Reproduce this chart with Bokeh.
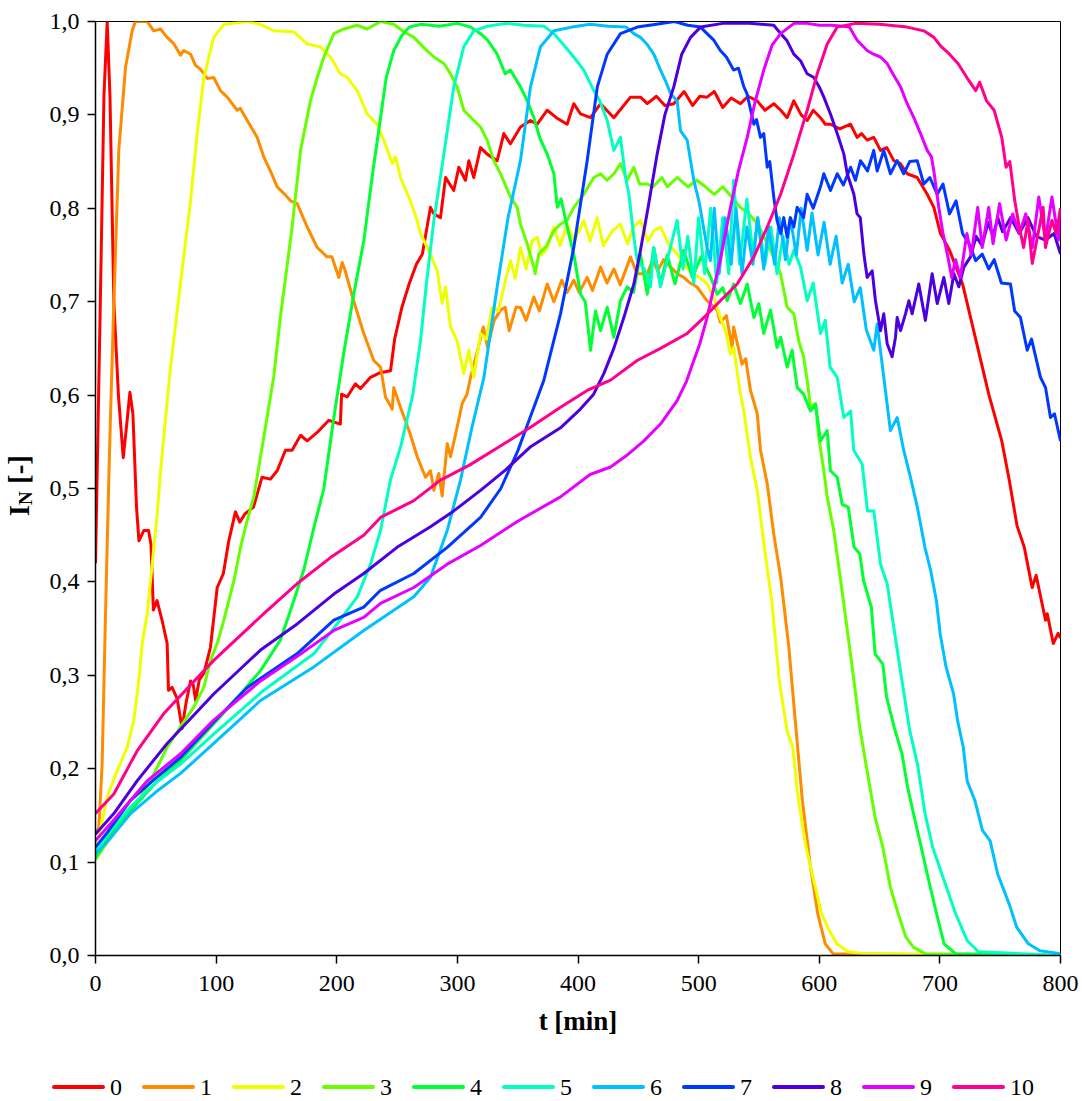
import math
from bokeh.plotting import figure
from bokeh.models import (FixedTicker, CustomJSTickFormatter, Range1d, Div)
from bokeh.layouts import row, column
from bokeh.embed import file_html
from bokeh.resources import INLINE

# ---------------- data (t [min], I_N [-]) ----------------
series_names = ["0", "1", "2", "3", "4", "5", "6", "7", "8", "9", "10"]
series_colors = ["#FF0000", "#FF8C00", "#EEFF00", "#66FF00", "#00FF33", "#00FFC0",
                 "#00C0FF", "#0038FF", "#4C00E0", "#E600FF", "#FF0090"]
x_ticks = [0, 100, 200, 300, 400, 500, 600, 700, 800]
y_ticks = [0.0, 0.1, 0.2, 0.3, 0.4, 0.5, 0.6, 0.7, 0.8, 0.9, 1.0]

s0 = [(0,0.42),(4,0.70),(7,0.92),(9.7,1.0),(12,0.92),(15.2,0.70),(19,0.60),(23,0.533),(26,0.57),(28.5,0.603),
      (31,0.58),(34,0.48),(36,0.444),(40,0.455),(44,0.455),(46,0.44),(48,0.37),(51,0.38),(55,0.36),(59.4,0.334),
      (60.5,0.284),(63.5,0.287),(67.7,0.275),(71.8,0.243),(75,0.27),(78.8,0.294),(81,0.29),(83,0.273),(86,0.295),
      (89.8,0.302),(95.3,0.33),(100.9,0.394),(106,0.409),(110.5,0.444),(116,0.475),(119.6,0.464),(124,0.473),
      (131,0.48),(138,0.512),(145,0.51),(150.6,0.519),(157.5,0.541),(163,0.541),(170,0.557),(175.5,0.551),
      (183.8,0.56),(193.4,0.573),(203,0.569),(204,0.601),(208.6,0.598),(215.5,0.612),(219.7,0.607),(228,0.619),
      (236,0.624),(244.6,0.626),(248,0.66),(254,0.694),(260,0.719),(266,0.74),(271,0.751),(277.7,0.801),
      (280.5,0.794),(286,0.79),(290.2,0.833),(297,0.819),(301.2,0.844),(306.7,0.83),(309.5,0.851),(313.6,0.833),
      (319.2,0.865),(324.7,0.858),(333,0.851),(338.5,0.88),(344,0.869),(352.3,0.887),(360.6,0.894),(366.2,0.89),
      (374.5,0.905),(382,0.897),(391,0.89),(396.5,0.912),(402.1,0.901),(410.4,0.897),(418.7,0.912),(429.7,0.897),
      (443.5,0.919),(451.8,0.919),(457.4,0.912),(465,0.92),(472,0.91),(479.4,0.912),(488,0.925),(495,0.91),
      (501,0.92),(507,0.919),(513,0.925),(520,0.908),(527,0.918),(534.7,0.912),(541,0.92),(548.5,0.915),
      (555,0.905),(562.3,0.912),(568,0.905),(573.4,0.897),(578.9,0.915),(585,0.9),(590,0.894),(595,0.905),
      (601,0.897),(605,0.89),(609.3,0.89),(617,0.885),(625.9,0.89),(631.4,0.876),(635,0.88),(639.7,0.873),
      (645.2,0.876),(650.8,0.862),(656,0.865),(661.8,0.851),(667,0.848),(672.9,0.837),(681.2,0.833),
      (689.5,0.815),(695,0.801),(700.5,0.773),(708,0.755),(718.8,0.719),(729.7,0.66),(740.5,0.601),
      (751.3,0.551),(757.5,0.509),(764,0.46),(770,0.437),(776.5,0.394),(779.8,0.407),(787.6,0.359),(789,0.366),
      (794,0.334),(798,0.345),(800,0.34)]

s1 = [(0,0.13),(2.8,0.137),(5.5,0.205),(8.3,0.366),(11,0.508),(12.4,0.576),(15,0.69),(17,0.77),(19.3,0.862),
      (24.9,0.951),(30.4,0.99),(33,1.0),(42.8,1.0),(48.3,0.99),(53.9,0.992),(59.4,0.983),(65,0.976),(70.5,0.964),
      (73.2,0.969),(78.8,0.965),(82.9,0.953),(87,0.949),(92.6,0.939),(98,0.94),(103.6,0.926),(109.2,0.919),
      (117.5,0.905),(120,0.907),(125.8,0.894),(134,0.876),(139.5,0.855),(145,0.84),(150.6,0.823),(156,0.816),
      (161.7,0.808),(167.2,0.805),(175.5,0.78),(183.8,0.758),(192,0.748),(196,0.748),(201.7,0.726),(204.5,0.742),
      (207,0.733),(214,0.701),(222.4,0.666),(230.7,0.637),(236.3,0.63),(240.4,0.598),(246,0.585),(247.3,0.608),
      (252.8,0.587),(261,0.558),(266.7,0.534),(273.6,0.512),(277.7,0.519),(280.5,0.498),(284.6,0.516),
      (287.4,0.492),(291.6,0.548),(294.3,0.534),(298.5,0.558),(301,0.573),(304,0.591),(308,0.601),(310.9,0.619),
      (316,0.644),(321.5,0.673),(325,0.651),(330.5,0.68),(335.8,0.691),(339.6,0.694),(343,0.669),(348.6,0.694),
      (352.3,0.694),(357,0.68),(363.4,0.705),(368,0.69),(374.5,0.719),(380,0.70),(386.5,0.723),(391,0.71),
      (396.5,0.723),(401,0.71),(407.6,0.726),(412,0.712),(418.7,0.737),(424,0.72),(429.8,0.735),(435,0.718),
      (443.5,0.748),(449,0.73),(457.4,0.73),(462,0.745),(466,0.733),(471,0.745),(476.8,0.737),(482.2,0.73),
      (487.6,0.726),(493,0.72),(498.5,0.716),(507,0.701),(515.4,0.691),(518,0.678),(523,0.685),(527.8,0.651),
      (529,0.673),(536,0.633),(539,0.639),(543,0.605),(548.6,0.58),(551.3,0.541),(556.9,0.505),(562.3,0.451),
      (568,0.405),(574.8,0.33),(579.6,0.259),(586,0.166),(592.4,0.098),(598.7,0.045),(605,0.0125),(611.4,0.002),
      (800,0.0)]

s2 = [(0,0.12),(2.7,0.127),(9.7,0.17),(18,0.198),(26.3,0.223),(31.8,0.252),(35.9,0.294),(38.7,0.334),
      (42.9,0.366),(47,0.419),(51.2,0.473),(54,0.52),(62.2,0.63),(70.5,0.72),(78.8,0.808),(84.3,0.88),(89.8,0.94),
      (98,0.983),(106.4,0.997),(125.8,1.0),(136.8,0.997),(147.8,0.99),(164.4,0.989),(175.5,0.976),(186.5,0.973),
      (194.8,0.962),(203,0.944),(208.7,0.94),(217,0.926),(225.2,0.901),(233.5,0.89),(239,0.873),(246,0.848),
      (248.7,0.855),(252.8,0.833),(261,0.808),(266.7,0.787),(269.4,0.773),(277.7,0.751),(283.3,0.733),
      (287.4,0.698),(290.2,0.716),(294.3,0.673),(299.8,0.658),(305.3,0.623),(309.5,0.648),(313.6,0.619),
      (319.2,0.666),(324,0.66),(328.8,0.694),(334,0.69),(339.9,0.723),(344,0.744),(348,0.725),(352.3,0.758),
      (357,0.735),(362,0.765),(366.2,0.769),(370,0.75),(374.5,0.758),(380,0.78),(385,0.76),(391,0.783),
      (397,0.765),(404.8,0.787),(410,0.765),(415.9,0.79),(421,0.76),(428,0.775),(435.2,0.783),(441,0.762),
      (446,0.78),(451.8,0.787),(458,0.765),(463,0.776),(468.4,0.78),(475,0.762),(482.2,0.751),(487.6,0.74),
      (495,0.73),(502,0.725),(507,0.719),(512.6,0.705),(518,0.683),(522.3,0.669),(526.4,0.644),(529,0.651),
      (534.7,0.601),(537.5,0.583),(543,0.533),(548.6,0.498),(554.2,0.44),(560.6,0.38),(566.9,0.294),
      (573.3,0.241),(578,0.223),(582.5,0.169),(589,0.116),(595.5,0.08),(601.9,0.045),(608.2,0.027),
      (614.6,0.0125),(624,0.004),(637,0.002),(800,0.0)]

s3 = [(0,0.103),(10,0.122),(20,0.138),(29,0.152),(45.6,0.187),(59.4,0.223),(70.5,0.245),(81.5,0.266),
      (89.8,0.287),(95.3,0.316),(100.9,0.334),(106.4,0.359),(114.7,0.401),(120.2,0.437),(125.8,0.466),
      (131.2,0.491),(139.5,0.555),(147.8,0.62),(153.4,0.685),(159,0.74),(163,0.78),(170,0.862),(178.2,0.915),
      (183.8,0.94),(189.3,0.962),(197.6,0.987),(205.8,0.992),(217,0.996),(225.2,0.992),(236.3,1.0),(247.3,0.997),
      (255.6,0.989),(264,0.983),(272.2,0.972),(280.5,0.962),(288.8,0.955),(294.3,0.944),(299.8,0.93),
      (305.3,0.905),(313.6,0.894),(319.2,0.887),(324.7,0.873),(330.2,0.851),(335.8,0.837),(344,0.812),
      (349.6,0.801),(352.3,0.783),(357.9,0.762),(363.4,0.737),(364.5,0.73),(367.5,0.751),(374,0.76),(380,0.776),
      (385.5,0.783),(391,0.787),(396.5,0.801),(404.8,0.815),(413.1,0.833),(418.7,0.837),(424,0.83),
      (429.8,0.837),(435.2,0.848),(440.7,0.83),(446.3,0.844),(451,0.826),(457.4,0.826),(462.3,0.823),
      (469.6,0.833),(474,0.823),(482.2,0.833),(491.3,0.823),(498.5,0.83),(505.7,0.823),(512.9,0.815),(520,0.823),
      (527.4,0.812),(534.6,0.801),(541.8,0.794),(549,0.783),(559.6,0.755),(567.9,0.73),(573.4,0.694),
      (578.9,0.687),(583,0.658),(587,0.641),(590,0.616),(592.7,0.587),(596.9,0.591),(599.6,0.555),(603.8,0.519),
      (606.6,0.491),(612,0.455),(617.8,0.401),(627.3,0.309),(633.6,0.244),(640,0.195),(646.3,0.148),
      (652.7,0.116),(659,0.073),(665.4,0.045),(671.7,0.02),(678,0.009),(687.6,0.002),(800,0.0)]

s4 = [(0,0.105),(10,0.125),(20,0.142),(29,0.155),(50,0.185),(70.5,0.209),(98,0.248),(120.2,0.28),
      (136.8,0.305),(153.4,0.338),(164.4,0.38),(172.7,0.413),(181,0.458),(189.3,0.5),(197.6,0.576),
      (205.8,0.645),(214.1,0.708),(222.4,0.765),(230,0.84),(236.3,0.897),(241,0.94),(247.3,0.969),(254,0.985),
      (260,0.994),(270,0.997),(285,0.995),(300,0.998),(311,0.994),(319.2,0.987),(325,0.98),(333,0.965),
      (339.6,0.944),(344,0.948),(352.3,0.93),(357.9,0.915),(363.4,0.897),(368.4,0.875),(374.5,0.858),(380,0.837),
      (382.8,0.801),(386,0.81),(391,0.78),(396.5,0.751),(402.1,0.708),(406,0.70),(410.4,0.648),(414.5,0.69),
      (418.7,0.669),(424.2,0.694),(429.7,0.662),(435.2,0.701),(440.8,0.716),(446,0.71),(451.8,0.751),
      (457.4,0.708),(462.8,0.758),(468.4,0.719),(474,0.75),(480.4,0.719),(487.6,0.755),(494.8,0.726),(502,0.748),
      (510,0.726),(515.4,0.708),(520,0.715),(523.7,0.701),(529,0.719),(534.7,0.698),(540.3,0.719),(545.8,0.683),
      (549.9,0.698),(554,0.666),(559.6,0.691),(565,0.651),(568,0.662),(573.4,0.63),(577.5,0.648),(581.7,0.608),
      (587,0.601),(592.7,0.583),(597,0.59),(601,0.551),(606.6,0.562),(609.3,0.519),(614.9,0.512),(619,0.483),
      (624,0.48),(628.9,0.437),(633.6,0.43),(636.8,0.401),(643.2,0.373),(646.3,0.323),(652.7,0.312),
      (655.8,0.277),(662.2,0.244),(668.6,0.216),(673.3,0.18),(678.1,0.152),(684.5,0.116),(690.8,0.08),
      (697.2,0.045),(703.5,0.0125),(713,0.002),(800,0.0)]

s5 = [(0,0.112),(10,0.13),(29,0.159),(50,0.185),(70.5,0.205),(98,0.237),(139.5,0.284),(181,0.323),
      (200.4,0.355),(217,0.384),(228,0.419),(236.3,0.455),(244.5,0.509),(253,0.545),(263,0.6),(269.4,0.658),
      (274.4,0.72),(280.5,0.787),(288.8,0.858),(297,0.93),(305.3,0.973),(313.6,0.99),(325,0.995),(340,0.998),
      (355,0.996),(371.7,0.995),(380,0.987),(388,0.975),(396.5,0.962),(404.8,0.948),(413.1,0.926),(418,0.915),
      (424.2,0.894),(429.7,0.862),(435.2,0.876),(439.4,0.833),(442.2,0.815),(446.3,0.769),(449.1,0.744),
      (455,0.735),(460.1,0.716),(462.8,0.758),(468.4,0.716),(475,0.75),(482.2,0.787),(487,0.735),(491,0.77),
      (496,0.72),(500,0.79),(505,0.73),(510,0.80),(515,0.72),(520,0.79),(525,0.73),(529,0.83),(534,0.74),
      (540,0.81),(545,0.75),(549,0.79),(555,0.74),(560,0.78),(565,0.73),(570,0.77),(575,0.74),(579,0.755),
      (584.5,0.737),(590,0.701),(595,0.72),(601,0.666),(605,0.68),(609,0.63),(614.9,0.619),(620.4,0.576),
      (626,0.583),(628.6,0.541),(635.6,0.526),(640,0.476),(645.2,0.476),(650.8,0.419),(656.3,0.398),
      (662.2,0.348),(668.6,0.294),(675,0.241),(681.4,0.205),(687.7,0.152),(694,0.116),(703.6,0.08),(713,0.045),
      (722.6,0.016),(732,0.004),(800,0.0)]

s6 = [(0,0.109),(10,0.122),(29,0.152),(50,0.175),(70.5,0.195),(98,0.227),(136.8,0.273),(181,0.309),
      (222.4,0.348),(263.9,0.384),(277.7,0.405),(291.6,0.455),(302.6,0.509),(312,0.565),(322,0.619),(333,0.716),
      (342,0.79),(352.3,0.851),(360.6,0.93),(368.9,0.973),(380,0.99),(395,0.994),(410,0.997),(425,0.995),
      (440,0.994),(446.3,0.987),(451.8,0.983),(457,0.976),(462.8,0.965),(468.4,0.948),(473,0.935),(476.7,0.923),
      (482.2,0.915),(485,0.883),(490.5,0.873),(496,0.83),(500.2,0.808),(507,0.758),(509.7,0.744),(513,0.80),
      (517,0.73),(522,0.79),(527,0.74),(531,0.80),(536,0.73),(540,0.78),(545,0.74),(549,0.79),(554,0.735),
      (558,0.78),(563,0.74),(567,0.79),(572,0.745),(576,0.79),(581,0.75),(585,0.80),(590,0.755),(594,0.795),
      (599,0.75),(604,0.785),(609,0.74),(614,0.77),(619,0.72),(624,0.74),(629,0.70),(634,0.715),(639,0.67),
      (645.2,0.648),(648,0.676),(653.5,0.619),(659,0.562),(664.6,0.576),(670,0.541),(675.6,0.512),(681.3,0.48),
      (687.6,0.437),(692.4,0.412),(697.1,0.38),(700.3,0.344),(705.1,0.309),(711.4,0.28),(714.6,0.252),
      (719.4,0.223),(722.6,0.187),(729,0.166),(735.3,0.134),(741.6,0.123),(748,0.087),(757.5,0.055),
      (763.8,0.03),(773.4,0.0125),(782.9,0.005),(800,0.002)]

s7 = [(0,0.116),(10,0.132),(29,0.166),(50,0.19),(70.5,0.212),(98,0.25),(125.8,0.287),(167,0.323),
      (197.6,0.359),(222.4,0.373),(236.3,0.391),(263.9,0.409),(291.6,0.437),(319.2,0.469),(336,0.5),(350,0.54),
      (360,0.575),(371.7,0.616),(385.5,0.687),(396.5,0.758),(407.6,0.851),(416,0.93),(424.2,0.965),
      (435.2,0.987),(449.1,0.994),(465,0.997),(480,1.0),(491,0.996),(501.6,0.994),(507,0.987),(512.6,0.98),
      (518,0.969),(523,0.962),(529,0.948),(533,0.95),(537.5,0.93),(540,0.923),(545.8,0.89),(548,0.895),
      (551.3,0.876),(554,0.88),(556.9,0.844),(559,0.85),(562.3,0.812),(565,0.787),(568,0.773),(570.6,0.79),
      (573.4,0.769),(576,0.79),(578.9,0.78),(581.7,0.801),(587,0.79),(590,0.815),(595,0.80),(601,0.823),
      (603.8,0.837),(609.3,0.819),(614.9,0.837),(620,0.825),(626,0.844),(630,0.83),(634.2,0.851),(640,0.84),
      (645.2,0.862),(648,0.84),(653.5,0.862),(659,0.837),(664.6,0.851),(670,0.837),(675,0.85),(681.2,0.851),
      (686.7,0.826),(691.7,0.833),(697.8,0.815),(702.6,0.826),(708,0.794),(713.4,0.808),(718.8,0.773),
      (724.2,0.762),(729.7,0.744),(735.1,0.751),(740.5,0.735),(745,0.745),(751,0.72),(758.5,0.719),(762,0.69),
      (766.8,0.683),(772.4,0.648),(776,0.66),(783.4,0.619),(787.6,0.608),(791.7,0.576),(795,0.58),(800,0.551)]

s8 = [(0,0.13),(15.2,0.152),(34.5,0.187),(59.4,0.227),(98,0.28),(136.8,0.327),(167.2,0.355),(197.6,0.387),
      (222.4,0.409),(250,0.437),(277.7,0.459),(297,0.476),(319.2,0.498),(340,0.52),(361,0.545),(385.5,0.565),
      (402,0.585),(413,0.601),(421.4,0.623),(429.7,0.65),(438,0.683),(446.3,0.719),(451.8,0.755),(458,0.80),
      (465.6,0.858),(472,0.90),(479.4,0.93),(486,0.965),(493.3,0.983),(501.6,0.994),(520,0.998),(542,0.998),
      (562.3,0.996),(568,0.987),(573,0.98),(578.9,0.965),(584.5,0.958),(590,0.944),(595.5,0.94),(600,0.93),
      (603.8,0.919),(609.3,0.901),(614.9,0.88),(620.4,0.858),(623.2,0.837),(628.7,0.815),(631.4,0.794),
      (634,0.79),(637,0.751),(639.7,0.726),(643.9,0.733),(646.6,0.701),(650.8,0.669),(653.5,0.687),
      (656.3,0.655),(660.4,0.641),(663.2,0.662),(664.6,0.683),(667.4,0.669),(671.5,0.687),(674.3,0.701),
      (677,0.687),(682.5,0.719),(688,0.68),(693.6,0.73),(697.8,0.698),(703.3,0.726),(707.4,0.698),(711.6,0.73),
      (715.7,0.716),(719.9,0.737),(725.4,0.748),(730,0.77),(735,0.76),(740,0.785),(744,0.77),(748,0.79),
      (752,0.775),(758.6,0.79),(765.8,0.773),(773,0.79),(780,0.77),(787.5,0.766),(794.7,0.773),(800,0.751)]

s9 = [(0,0.123),(15.2,0.145),(42.9,0.187),(70.5,0.216),(98,0.252),(136.8,0.294),(167,0.32),(197.6,0.348),
      (222.4,0.362),(236.3,0.377),(263.9,0.394),(291.6,0.419),(319.2,0.439),(350,0.465),(385.5,0.491),
      (410,0.515),(427,0.523),(440,0.535),(454.6,0.551),(468.4,0.569),(482.2,0.594),(490,0.615),(496,0.637),
      (501,0.655),(507,0.683),(512.6,0.715),(518,0.745),(526.4,0.801),(533,0.84),(540.3,0.876),(547,0.915),
      (554,0.948),(561,0.975),(568,0.987),(579,0.998),(590,0.998),(600,0.996),(610,0.996),(620,0.995),
      (625,0.994),(631.4,0.98),(639.7,0.969),(645,0.965),(650.8,0.962),(656.3,0.955),(661,0.944),(667.4,0.93),
      (672.9,0.912),(678.4,0.897),(684,0.88),(689.5,0.862),(693,0.855),(695,0.84),(699.1,0.801),(702.6,0.773),
      (706.2,0.751),(709.8,0.726),(713,0.745),(717,0.726),(722.4,0.773),(726,0.75),(731.4,0.801),(735.1,0.758),
      (740.5,0.801),(744.1,0.762),(749.5,0.805),(754.9,0.766),(760.4,0.794),(765.8,0.773),(771.2,0.794),
      (776.6,0.758),(782,0.812),(787.5,0.766),(792.9,0.812),(798.3,0.766),(800,0.8)]

s10 = [(0,0.152),(15.2,0.173),(34.5,0.219),(56.6,0.259),(98,0.316),(139.5,0.366),(167,0.398),(194.8,0.426),
       (222.4,0.45),(236.3,0.469),(263.9,0.487),(286,0.509),(310,0.525),(335,0.545),(360,0.565),(385.5,0.587),
       (407.6,0.605),(427,0.616),(449,0.637),(468.4,0.65),(490.5,0.666),(504.3,0.683),(518,0.701),(532,0.719),
       (545.8,0.748),(556.9,0.78),(568,0.815),(579,0.858),(590,0.905),(598.3,0.944),(606.6,0.976),(614.9,0.994),
       (630,0.998),(650,0.997),(672.9,0.994),(686.7,0.99),(695,0.983),(700.5,0.974),(708,0.965),(715,0.955),
       (722.4,0.94),(729.7,0.926),(733,0.935),(738.7,0.915),(745,0.905),(751.3,0.876),(754.9,0.844),(758,0.85),
       (762.1,0.808),(765.8,0.78),(769.4,0.758),(773,0.787),(776.6,0.741),(781,0.77),(785.6,0.801),
       (787.5,0.758),(792.9,0.787),(796.5,0.773),(800,0.8)]

all_series = [s0, s1, s2, s3, s4, s5, s6, s7, s8, s9, s10]

# ---------------- figure ----------------
FONT = "Liberation Serif"
YLAB_W = 40
TOP, BOTTOM = 21, 100
FIG_H = TOP + 934 + BOTTOM
LEG_H = 1101 - FIG_H

p = figure(frame_width=965, frame_height=934, x_range=Range1d(0, 800), y_range=Range1d(0, 1.0),
           output_backend="svg", toolbar_location=None,
           min_border_left=95 - YLAB_W, min_border_right=22, min_border_top=TOP, min_border_bottom=BOTTOM)
p.background_fill_color = "white"
p.border_fill_color = "white"
p.outline_line_color = "black"
p.outline_line_width = 1
p.xgrid.visible = False
p.ygrid.visible = False

p.xaxis.ticker = FixedTicker(ticks=x_ticks)
p.yaxis.ticker = FixedTicker(ticks=y_ticks)
p.xaxis.formatter = CustomJSTickFormatter(code="return tick.toFixed(0);")
p.yaxis.formatter = CustomJSTickFormatter(code="return tick.toFixed(1).replace('.', ',');")
for ax in (p.xaxis, p.yaxis):
    ax.axis_line_color = "black"
    ax.axis_line_width = 1.5
    ax.major_tick_line_color = "black"
    ax.major_tick_line_width = 1.5
    ax.major_tick_in = 0
    ax.major_tick_out = 8
    ax.minor_tick_line_color = None
    ax.major_label_text_font = FONT
    ax.major_label_text_font_size = "24px"
    ax.major_label_text_color = "black"
p.yaxis.major_label_standoff = 8
p.xaxis.major_label_standoff = 12

p.xaxis.axis_label = "t [min]"
p.xaxis.axis_label_text_font = FONT
p.xaxis.axis_label_text_font_style = "bold"
p.xaxis.axis_label_text_font_size = "27px"
p.xaxis.axis_label_text_color = "black"
p.xaxis.axis_label_standoff = 12

for name, col, s in zip(series_names, series_colors, all_series):
    t = [a for a, b in s]
    v = [b for a, b in s]
    p.line(t, v, line_color=col, line_width=3, line_join="round", legend_label=None) if False else \
        p.line(t, v, line_color=col, line_width=3, line_join="round")

# y-axis title with subscript (real text)
ylab_html = ('<div style="padding-top:455px;padding-left:5px;">'
             '<div style="display:inline-block;writing-mode:vertical-rl;transform:rotate(180deg);'
             "font-family:'Liberation Serif';font-weight:bold;font-size:29px;color:black;"
             'white-space:nowrap;line-height:1;">I<sub style="font-size:19px;">N</sub> [-]</div></div>')
ylab = Div(text=ylab_html, width=YLAB_W, height=FIG_H, margin=0)

# legend row below the chart (series names with their colours)
leg_items = "".join(
    '<span style="display:inline-flex;align-items:center;width:90px;">'
    f'<span style="display:inline-block;width:53px;height:4px;border-radius:2px;background:{c};'
    f'margin-right:5px;"></span>{n}</span>'
    for n, c in zip(series_names, series_colors))
leg_html = ('<div style="padding-left:52px;padding-top:%dpx;display:flex;align-items:center;'
            "font-family:'Liberation Serif';font-size:24px;line-height:24px;color:black;white-space:nowrap;\">"
            '%s</div>') % (max(LEG_H // 2 - 12 + 9, 0), leg_items)
leg = Div(text=leg_html, width=1082, height=LEG_H, margin=0)

layout = column(row(ylab, p), leg)
open("out.html", "w").write(file_html(layout, INLINE))
